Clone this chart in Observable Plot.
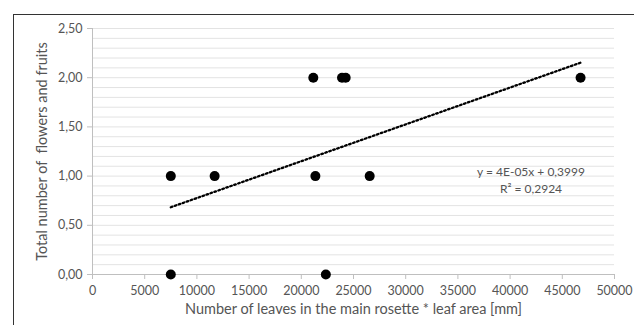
<!DOCTYPE html>
<html><head><meta charset="utf-8">
<script src="https://cdn.jsdelivr.net/npm/d3@7"></script>
<script src="https://cdn.jsdelivr.net/npm/@observablehq/plot@0.6"></script>
<style>
body{margin:0;overflow:hidden;background:#fff;width:634px;height:325px;position:relative;font-family:Lato,"Liberation Sans",sans-serif}
#frame{position:absolute;left:13px;top:14px;width:700px;height:400px;border:1.4px solid #333;box-sizing:border-box;pointer-events:none}
</style></head><body><div id="chart"></div><div id="frame"></div>
<script>
const leafArea = [7500, 7500, 11700, 21150, 21350, 22350, 23900, 24250, 26550, 46750];
const flowersFruits = [1, 0, 1, 2, 1, 0, 2, 2, 1, 2];
const xTicks = [0, 5000, 10000, 15000, 20000, 25000, 30000, 35000, 40000, 45000, 50000];
const yTicks = [0, 0.5, 1, 1.5, 2, 2.5];
const yGrid = d3.range(0, 26).map(i => i / 10);
const equationLines = ["y = 4E-05x + 0,3999", "R\u00b2 = 0,2924"];
const xTitle = "Number of leaves in the main rosette * leaf area [mm]";
const yTitle = "Total number of  flowers and fruits";

const data = leafArea.map((x, i) => ({x, y: flowersFruits[i]}));
const gray = "#555555";

const chart = Plot.plot({
  width: 634,
  height: 325,
  marginLeft: 92,
  marginRight: 20,
  marginTop: 28,
  marginBottom: 51,
  style: {fontFamily: "Lato, 'Liberation Sans', sans-serif", background: "#fff", overflow: "visible"},
  x: {domain: [0, 50000]},
  y: {domain: [0, 2.5]},
  marks: [
    Plot.gridY(yGrid, {stroke: "#e3e3e3", strokeOpacity: 1, strokeWidth: 1}),
    Plot.ruleX([0], {stroke: "#bfbfbf"}),
    Plot.ruleY([0], {stroke: "#bfbfbf"}),
    Plot.axisY(yTicks, {tickFormat: d => d.toFixed(2).replace(".", ","), tickSize: 5, tickPadding: 5, stroke: "#bfbfbf", color: gray, fontSize: 12.5, label: null}),
    Plot.axisX(xTicks, {tickFormat: d => String(d), tickSize: 5, tickPadding: 7, stroke: "#bfbfbf", color: gray, fontSize: 12.5, label: null}),
    Plot.text([xTitle], {frameAnchor: "bottom", dy: 39, fill: gray, fontSize: 14.5}),
    Plot.text([yTitle], {frameAnchor: "left", dx: -50, rotate: -90, textAnchor: "middle", fill: gray, fontSize: 14.5}),
    Plot.linearRegressionY(data, {x: "x", y: "y", ci: 0, stroke: "black", strokeWidth: 2.3, strokeDasharray: "1.7,2.5"}),
    Plot.dot(data, {x: "x", y: "y", r: 5, fill: "black", stroke: "none"}),
    Plot.text(equationLines, {x: 42000, y: (d, i) => 1.04 - i * 0.175, fill: gray, fontSize: 12})
  ]
});
document.getElementById("chart").appendChild(chart);
</script></body></html>
